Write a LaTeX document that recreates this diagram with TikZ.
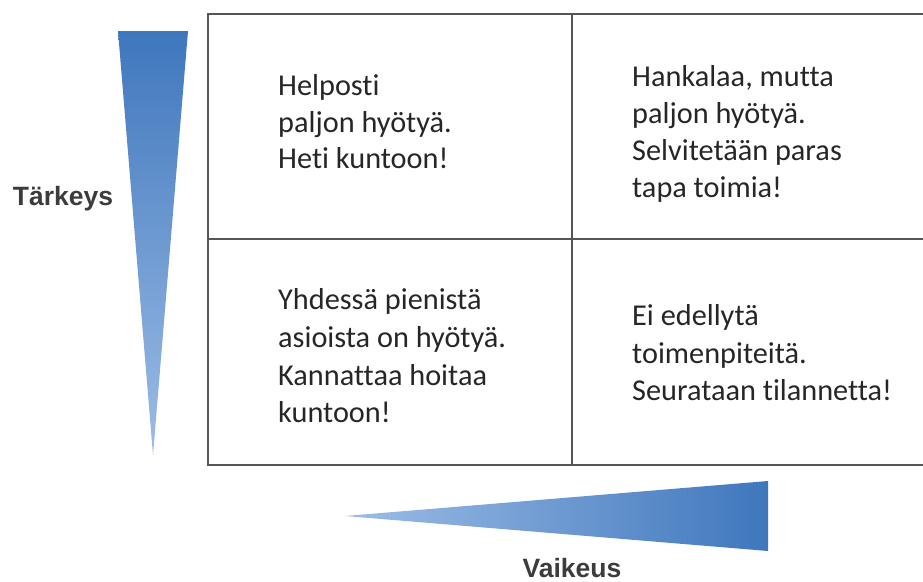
\documentclass[tikz,border=0pt]{standalone}
\usepackage{fontspec}
\setmainfont[Ligatures=CommonOff]{Carlito}
\newfontfamily\labelfont{Liberation Sans}
\definecolor{darkblue}{HTML}{3F77BD}
\definecolor{lightblue}{HTML}{9DBDE6}
\definecolor{gridgray}{HTML}{555555}
\definecolor{txt}{HTML}{262626}
\tikzset{
  celltext/.style={anchor=base west, inner sep=0pt, text=txt, font=\fontsize{30.3}{37}\selectfont},
  axislabel/.style={anchor=base, inner sep=0pt, text=txt!90, font=\labelfont\bfseries\fontsize{26.5}{30}\selectfont},
  gridline/.style={draw=gridgray, line width=2.2pt},
}
\begin{document}
\begin{tikzpicture}[x=1pt,y=-1pt]
\useasboundingbox (0,0) rectangle (923,581);
% grid
\coordinate (gTL) at (208,14);
\coordinate (gTR) at (923,14);
\coordinate (gML) at (208,239);
\coordinate (gMR) at (923,239);
\coordinate (gBL) at (208,465);
\coordinate (gBR) at (923,465);
\coordinate (gMT) at (572,14);
\coordinate (gMB) at (572,465);
\draw[gridline] (gTR) -- (gTL) -- (gBL) -- (gBR);
\draw[gridline] (gML) -- (gMR);
\draw[gridline] (gMT) -- (gMB);
% vertical triangle
\shade[top color=darkblue, bottom color=lightblue] (118,31) -- (188,31) -- (153,455) -- cycle;
% horizontal triangle
\shade[left color=lightblue, right color=darkblue] (345,516) -- (768,481) -- (768,551) -- cycle;
% labels
\node[axislabel] (tark) at (63,205) {Tärkeys};
\node[axislabel] (vaik) at (572,577) {Vaikeus};
% cell texts
\node[celltext] (tl1) at (278,95) {Helposti};
\node[celltext] (tl2) at (278,132) {paljon hyötyä.};
\node[celltext] (tl3) at (278,168) {Heti kuntoon!};
\node[celltext] (tr1) at (632,86) {Hankalaa, mutta};
\node[celltext] (tr2) at (632,123) {paljon hyötyä.};
\node[celltext] (tr3) at (632,160) {Selvitetään paras};
\node[celltext] (tr4) at (632,197) {tapa toimia!};
\node[celltext] (bl1) at (278,309) {Yhdessä pienistä};
\node[celltext] (bl2) at (278,347) {asioista on hyötyä.};
\node[celltext] (bl3) at (278,385) {Kannattaa hoitaa};
\node[celltext] (bl4) at (278,422) {kuntoon!};
\node[celltext] (br1) at (632,325) {Ei edellytä};
\node[celltext] (br2) at (632,363) {toimenpiteitä.};
\node[celltext] (br3) at (632,400) {Seurataan tilannetta!};
\end{tikzpicture}
\end{document}
